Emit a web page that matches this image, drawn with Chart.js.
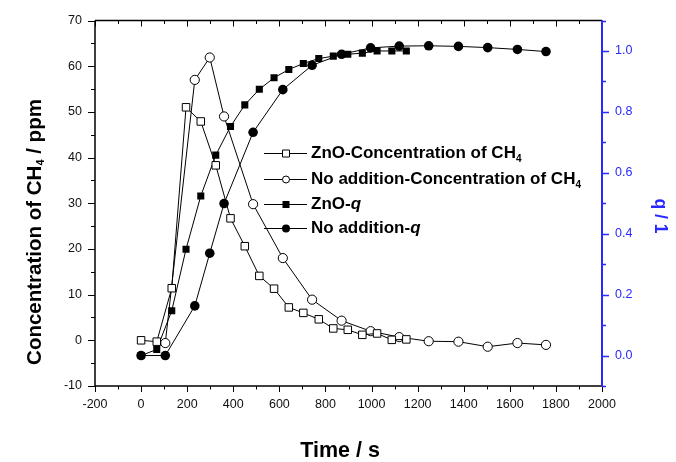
<!DOCTYPE html>
<html>
<head>
<meta charset="utf-8">
<script src="https://cdn.jsdelivr.net/npm/chart.js@4"></script>
<style>
  html, body { margin: 0; padding: 0; background: #fff; }
  #chart { display: block; }
</style>
</head>
<body>
<canvas id="chart" width="676" height="462"></canvas>
<script>
(function () {
    "use strict";

    // Data
    const znoTime = [0, 68, 133, 195, 259, 324, 388, 450, 513, 577, 641, 704, 771, 834, 897, 960, 1024, 1088, 1151];
    const znoConc = [0, -0.3, 11.4, 51.0, 47.9, 38.3, 26.7, 20.6, 14.1, 11.3, 7.2, 6.0, 4.6, 2.6, 2.3, 1.2, 1.5, 0.1, 0.2];
    const znoQ = [0, 0.02, 0.147, 0.349, 0.524, 0.658, 0.752, 0.823, 0.874, 0.912, 0.939, 0.959, 0.975, 0.983, 0.989, 0.993, 1.0, 1.0, 1.0];

    const noAddTime = [0, 105, 233, 298, 360, 486, 615, 742, 870, 996, 1120, 1248, 1377, 1504, 1633, 1757];
    const noAddConc = [null, -0.6, 57.0, 61.9, 49.0, 29.8, 18.0, 8.9, 4.3, 2.0, 0.7, -0.2, -0.3, -1.4, -0.6, -1.0];
    const noAddQ = [0, 0, 0.163, 0.336, 0.499, 0.733, 0.873, 0.953, 0.989, 1.01, 1.016, 1.017, 1.015, 1.011, 1.005, 0.998];

    const seriesNames = [
        "ZnO-Concentration of CH",
        "No addition-Concentration of CH",
        "ZnO-",
        "No addition-",
    ];

    const FONT = "'Liberation Sans', Arial, sans-serif";
    const BLUE = "rgb(40,40,255)";

    const pts = (xs, ys) => xs.map((x, i) => ({ x: x, y: ys[i] }));

    // true when a tick carries a label
    const isMajor = (v, step) => Math.abs(Math.round(v / step) * step - v) < 1e-6;

    // tick marks, borders, titles and legend
    const frame = {
        id: "frame",
        afterDraw(chart) {
            const ctx = chart.ctx;
            const a = chart.chartArea;
            const sx = chart.scales.x, sy = chart.scales.y, sq = chart.scales.y1;
            ctx.save();

            // x ticks bottom (out) and top (in)
            ctx.strokeStyle = "#000";
            ctx.lineWidth = 1;
            sx.ticks.forEach((t) => {
                const px = Math.round(sx.getPixelForValue(t.value)) + 0.5;
                const len = isMajor(t.value, 200) ? 6 : 3.5;
                ctx.beginPath();
                ctx.moveTo(px, a.bottom);
                ctx.lineTo(px, a.bottom + len);
                ctx.moveTo(px, a.top);
                ctx.lineTo(px, a.top + len);
                ctx.stroke();
            });
            // left ticks
            sy.ticks.forEach((t) => {
                const py = Math.round(sy.getPixelForValue(t.value)) + 0.5;
                const len = isMajor(t.value, 10) ? 7 : 4;
                ctx.beginPath();
                ctx.moveTo(a.left, py);
                ctx.lineTo(a.left - len, py);
                ctx.stroke();
            });
            // right ticks
            ctx.strokeStyle = BLUE;
            ctx.lineWidth = 1.5;
            sq.ticks.forEach((t) => {
                const py = Math.round(sq.getPixelForValue(t.value)) + 0.5;
                const len = isMajor(t.value, 0.2) ? 7 : 4;
                ctx.beginPath();
                ctx.moveTo(a.right, py);
                ctx.lineTo(a.right + len, py);
                ctx.stroke();
            });

            // borders
            ctx.strokeStyle = "#000";
            ctx.lineWidth = 1.5;
            ctx.beginPath();
            ctx.moveTo(a.left, a.top);
            ctx.lineTo(a.right, a.top);
            ctx.moveTo(a.left, a.top);
            ctx.lineTo(a.left, a.bottom);
            ctx.lineTo(a.right, a.bottom);
            ctx.stroke();
            ctx.strokeStyle = BLUE;
            ctx.lineWidth = 2;
            ctx.beginPath();
            ctx.moveTo(a.right, a.top);
            ctx.lineTo(a.right, a.bottom);
            ctx.stroke();

            // rich text helper: parts of [text, font, dy]
            const rich = (parts, x, y, align) => {
                let w = 0;
                parts.forEach((p) => {
                    ctx.font = p[1];
                    w += ctx.measureText(p[0]).width;
                });
                let cx = align === "center" ? x - w / 2 : x;
                ctx.textAlign = "left";
                ctx.textBaseline = "middle";
                parts.forEach((p) => {
                    ctx.font = p[1];
                    ctx.fillText(p[0], cx, y + (p[2] || 0));
                    cx += ctx.measureText(p[0]).width;
                });
            };

            const big = "bold 20.5px " + FONT;
            const sub = "bold 11px " + FONT;

            // axis titles
            ctx.fillStyle = "#000";
            rich([["Time / s", "bold 21.5px " + FONT]], 340, 451, "center");

            ctx.save();
            ctx.translate(35, 232);
            ctx.rotate(-Math.PI / 2);
            rich([["Concentration of CH", big], ["4", sub, 6], [" / ppm", big]], 0, 0, "center");
            ctx.restore();

            ctx.save();
            ctx.fillStyle = BLUE;
            ctx.translate(660, 216);
            ctx.rotate(Math.PI / 2);
            rich([["q / 1", "bold 17.5px " + FONT]], 0, 0, "center");
            ctx.restore();

            // legend
            const lf = "bold 17px " + FONT;
            const lfi = "italic bold 17px " + FONT;
            const ls = "bold 10px " + FONT;
            const rows = [153, 179, 204, 228];
            const x0 = 264, x1 = 307, xm = 286, tx = 311;
            rows.forEach((y, i) => {
                ctx.strokeStyle = "#000";
                ctx.lineWidth = 1;
                ctx.beginPath();
                ctx.moveTo(x0, y + 0.5);
                ctx.lineTo(x1, y + 0.5);
                ctx.stroke();
                ctx.beginPath();
                if (i === 0) {
                    ctx.rect(xm - 3.5, y - 3, 7, 7);
                    ctx.fillStyle = "#fff";
                    ctx.fill();
                    ctx.stroke();
                } else if (i === 1) {
                    ctx.arc(xm, y + 0.5, 3.5, 0, Math.PI * 2);
                    ctx.fillStyle = "#fff";
                    ctx.fill();
                    ctx.stroke();
                } else if (i === 2) {
                    ctx.rect(xm - 3.5, y - 3, 7, 7);
                    ctx.fillStyle = "#000";
                    ctx.fill();
                } else {
                    ctx.arc(xm, y + 0.5, 4, 0, Math.PI * 2);
                    ctx.fillStyle = "#000";
                    ctx.fill();
                }
                ctx.fillStyle = "#000";
                if (i < 2) {
                    rich([[seriesNames[i], lf], ["4", ls, 6]], tx, y, "left");
                } else {
                    rich([[seriesNames[i], lf], ["q", lfi]], tx, y, "left");
                }
            });

            ctx.restore();
        },
    };

    const ctx = document.getElementById("chart").getContext("2d");
    const chart = new Chart(ctx, {
        type: "line",
        data: {
            datasets: [
                {
                    label: seriesNames[0],
                    data: pts(znoTime, znoConc),
                    yAxisID: "y",
                    borderColor: "#000",
                    borderWidth: 1,
                    pointStyle: "rect",
                    pointRadius: 5.3,
                    pointBackgroundColor: "#fff",
                    pointBorderColor: "#000",
                    pointBorderWidth: 1,
                },
                {
                    label: seriesNames[1],
                    data: pts(noAddTime, noAddConc),
                    yAxisID: "y",
                    borderColor: "#000",
                    borderWidth: 1,
                    pointStyle: "circle",
                    pointRadius: 4.6,
                    pointBackgroundColor: "#fff",
                    pointBorderColor: "#000",
                    pointBorderWidth: 1,
                },
                {
                    label: seriesNames[2] + "q",
                    data: pts(znoTime, znoQ),
                    yAxisID: "y1",
                    borderColor: "#000",
                    borderWidth: 1,
                    pointStyle: "rect",
                    pointRadius: 5,
                    pointBackgroundColor: "#000",
                    pointBorderColor: "#000",
                    pointBorderWidth: 0,
                },
                {
                    label: seriesNames[3] + "q",
                    data: pts(noAddTime, noAddQ),
                    yAxisID: "y1",
                    borderColor: "#000",
                    borderWidth: 1,
                    pointStyle: "circle",
                    pointRadius: 4.8,
                    pointBackgroundColor: "#000",
                    pointBorderColor: "#000",
                    pointBorderWidth: 0,
                },
            ],
        },
        options: {
            responsive: false,
            animation: false,
            devicePixelRatio: 1,
            layout: {
                padding: { top: 17, left: 0, right: 0, bottom: 0 },
            },
            elements: {
                line: { tension: 0 },
            },
            plugins: {
                legend: { display: false },
                tooltip: { enabled: false },
            },
            scales: {
                x: {
                    type: "linear",
                    min: -200,
                    max: 2000,
                    afterFit: (s) => { s.height = 76; },
                    ticks: {
                        stepSize: 100,
                        autoSkip: false,
                        maxRotation: 0,
                        padding: 11,
                        color: "#111",
                        font: { family: FONT, size: 12.5 },
                        callback: (v) => (isMajor(v, 200) ? String(Math.round(v)) : ""),
                    },
                    grid: { display: false, drawTicks: false },
                    border: { display: false },
                },
                y: {
                    type: "linear",
                    position: "left",
                    min: -10,
                    max: 70,
                    afterFit: (s) => { s.width = 95; },
                    ticks: {
                        stepSize: 5,
                        autoSkip: false,
                        padding: 13,
                        color: "#111",
                        font: { family: FONT, size: 12.5 },
                        callback: (v) => (isMajor(v, 10) ? String(Math.round(v)) : ""),
                    },
                    grid: { display: false, drawTicks: false },
                    border: { display: false },
                },
                y1: {
                    type: "linear",
                    position: "right",
                    min: -0.1,
                    max: 1.1,
                    afterFit: (s) => { s.width = 74; },
                    ticks: {
                        stepSize: 0.1,
                        autoSkip: false,
                        padding: 13,
                        color: BLUE,
                        font: { family: FONT, size: 12.5 },
                        callback: (v) => {
                            const k = Math.round(v * 10);
                            return k >= 0 && k % 2 === 0 && isMajor(v, 0.2) ? (k / 10).toFixed(1) : "";
                        },
                    },
                    grid: { display: false, drawTicks: false },
                    border: { display: false },
                },
            },
        },
        plugins: [frame],
    });
})();
</script>
</body>
</html>
